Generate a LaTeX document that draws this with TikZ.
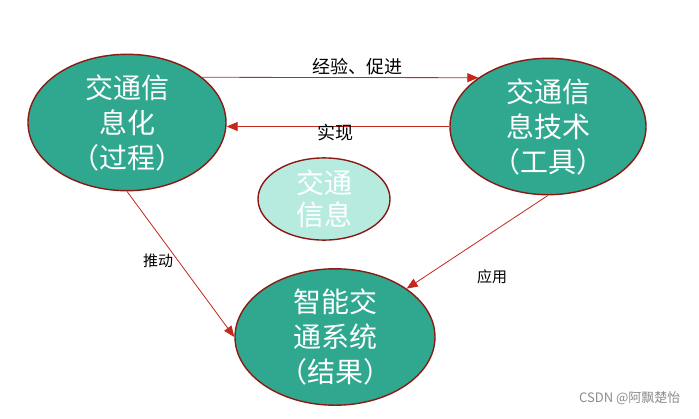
\documentclass[tikz,border=0pt]{standalone}
\usepackage{fontspec}
\setmainfont{Noto Sans CJK SC}
\newfontfamily\cjk{Noto Sans CJK SC}
\usetikzlibrary{shapes.geometric,arrows.meta}
\definecolor{tealfill}{RGB}{47,168,143}
\definecolor{lightfill}{RGB}{184,235,224}
\definecolor{rim}{RGB}{140,26,20}
\definecolor{arr}{RGB}{196,40,28}
\tikzset{
  big/.style={ellipse, draw=rim, line width=1.4pt, fill=tealfill, text=white,
    font=\cjk\fontsize{28}{35}\selectfont, align=center, inner sep=0pt},
  small/.style={ellipse, draw=rim, line width=1.4pt, fill=lightfill, text=white,
    font=\cjk\fontsize{28}{32}\selectfont, align=center, inner sep=0pt},
  conn/.style={draw=arr, line width=0.8pt, -{Triangle[length=11pt,width=9pt]}},
  toplab/.style={font=\cjk\fontsize{18}{20}\selectfont, text=black},
  sidelab/.style={font=\cjk\fontsize{15}{18}\selectfont, text=black},
}
\begin{document}
\begin{tikzpicture}[x=1pt,y=-1pt]
\useasboundingbox[fill=white] (0,0) rectangle (699,418);
\node[big, minimum width=198pt, minimum height=125pt] (L) at (127,122.5) {交通信\\息化\\（过程）};
\node[big, minimum width=196pt, minimum height=123pt] (R) at (548,126.5) {交通信\\息技术\\（工具）};
\node[small, minimum width=132pt, minimum height=82pt] (C) at (324,199) {交通\\信息};
\node[big, minimum width=200pt, minimum height=126pt] (B) at (335,337) {智能交\\通系统\\（结果）};
\draw[conn] (L.31) -- (R.145);
\draw[conn] (R.west) -- (R.west -| L.east);
\draw[conn] (L.south) -- (B.west);
\draw[conn] (R.south) -- (B.34);
\node[toplab] (t1) at (357,67) {经验、促进};
\node[toplab] (t2) at (335,133) {实现};
\node[sidelab] (t3) at (158,261) {推动};
\node[sidelab] (t4) at (492,277) {应用};
\node[font=\cjk\fontsize{13}{15}\selectfont, text=black!45, anchor=east] (wm) at (684,398) {CSDN @阿飘楚怡};
\end{tikzpicture}
\end{document}
